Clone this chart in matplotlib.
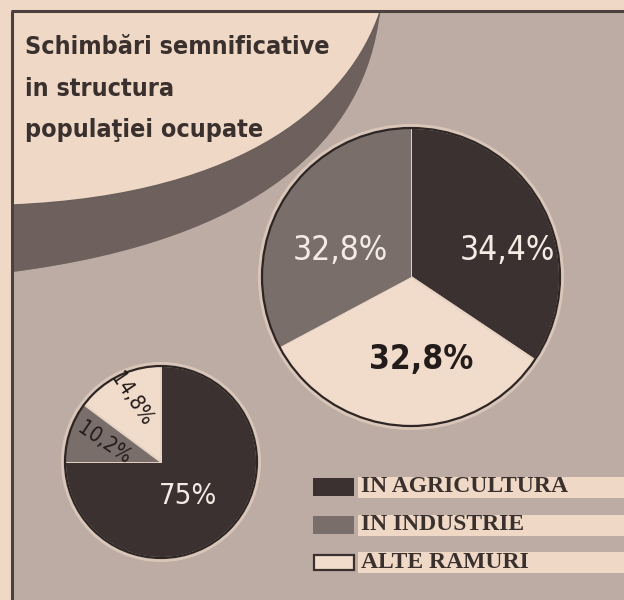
import matplotlib
matplotlib.use("Agg")
import matplotlib.pyplot as plt
from matplotlib.patches import Rectangle, PathPatch, Circle
from matplotlib.path import Path
from matplotlib import font_manager as fm

# ---------------- data ----------------
categories = ["IN AGRICULTURA", "IN INDUSTRIE", "ALTE RAMURI"]
values_big = [34.4, 32.8, 32.8]      # large pie (agri, industry, other)
values_small = [75.0, 10.2, 14.8]    # small pie (agri, industry, other)
title_lines = ["Schimbări semnificative", "in structura", "populaţiei ocupate"]

# ---------------- style ----------------
PAPER = "#efd9c6"
GRAY = "#d8c9be"
GRAY_HATCH = "#bcaca4"
BAND = "#8a7c77"
BAND_HATCH = "#6e615d"
DARK = "#3b3130"
IND = "#9a8d88"
IND_HATCH = "#7a6e6a"
LIGHT = "#f1dccb"
INK = "#3a302e"
FRAME = "#4b403e"

cat_colors = [DARK, IND, LIGHT]
plt.rcParams["hatch.linewidth"] = 0.7

W, H = 624, 600
fig = plt.figure(figsize=(W / 100, H / 100), dpi=100, facecolor=PAPER)
ax = fig.add_axes([0, 0, 1, 1])
ax.set_facecolor(PAPER)


def Y(y):
    return H - y


def P(x, y):
    return (x, Y(y))


installed = {f.name for f in fm.fontManager.ttflist}
NARROW = ["Liberation Sans Narrow", "DejaVu Sans"] if "Liberation Sans Narrow" in installed else ["DejaVu Sans"]
SERIF = ["Liberation Serif", "DejaVu Serif"]
COND = dict(family=NARROW, fontstretch="condensed")

# ---------------- background regions ----------------
ax.add_patch(Rectangle(P(12, 600), W - 12, 600 - 12, facecolor=GRAY,
                       edgecolor=GRAY_HATCH, hatch="x" * 20, lw=0, zorder=0))

upper = [P(380, 12), P(350, 100), P(250, 195), P(12, 205)]
lower = [P(12, 272), P(260, 240), P(365, 140), P(380, 12)]
band_verts = upper + [P(12, 240)] + lower
band_codes = [Path.MOVETO, Path.CURVE4, Path.CURVE4, Path.CURVE4,
              Path.LINETO, Path.LINETO, Path.CURVE4, Path.CURVE4, Path.CURVE4]
ax.add_patch(PathPatch(Path(band_verts, band_codes), facecolor=BAND,
                       edgecolor=BAND_HATCH, hatch="x" * 20, lw=0, zorder=1))

pale_verts = [P(12, 12)] + upper + [P(12, 12)]
pale_codes = [Path.MOVETO, Path.LINETO, Path.CURVE4, Path.CURVE4, Path.CURVE4,
              Path.CLOSEPOLY]
ax.add_patch(PathPatch(Path(pale_verts, pale_codes), facecolor=PAPER,
                       edgecolor="#6a5e5a", lw=1.0, zorder=2))

ax.plot([11, W], [Y(11), Y(11)], color=FRAME, lw=2.2, zorder=3,
        solid_capstyle="butt")
ax.plot([12, 12], [Y(11), Y(600)], color=FRAME, lw=2.2, zorder=3,
        solid_capstyle="butt")

# ---------------- title ----------------
title_y = [47, 89, 130]
for line, ty in zip(title_lines, title_y):
    ax.text(25, Y(ty), line, fontsize=18, fontweight="bold", color=INK,
            ha="left", va="center", zorder=5, **COND)


def fmt(v):
    return f"{v:g}".replace(".", ",") + "%"


# ---------------- pies ----------------
def draw_pie(vals, order, center, radius, label_pos, label_rot, label_col,
             label_size, label_weight):
    c = P(*center)
    v = [vals[i] for i in order]
    cols = [cat_colors[i] for i in order]
    ax.add_patch(Circle(c, radius + 4, facecolor=LIGHT, edgecolor="none",
                        alpha=0.55, zorder=3))
    wedges, _ = ax.pie(v, colors=cols, startangle=90, counterclock=False,
                       center=c, radius=radius, normalize=True,
                       wedgeprops=dict(edgecolor="#e6d3c4", linewidth=1.4))
    for w, i in zip(wedges, order):
        w.set_zorder(4)
        if i == 1:
            w.set_hatch("x" * 18)
            w.set_edgecolor(IND_HATCH)
            w.set_linewidth(0)
    ax.add_patch(Circle(c, radius, facecolor="none", edgecolor="#2e2625",
                        lw=1.6, zorder=4.5))
    for i in range(len(vals)):
        ax.text(*P(*label_pos[i]), fmt(vals[i]), color=label_col[i],
                rotation=label_rot[i], fontsize=label_size[i],
                fontweight=label_weight[i], ha="center", va="center",
                zorder=6, **COND)


draw_pie(values_big, [0, 2, 1], (411, 277), 149,
         label_pos=[(507, 250), (340, 250), (421, 360)],
         label_rot=[0, 0, 0],
         label_col=["#f4ece4", "#f4ece4", "#231c1b"],
         label_size=[24, 24, 24],
         label_weight=["normal", "normal", "bold"])

draw_pie(values_small, [0, 1, 2], (161, 462), 96,
         label_pos=[(188, 496), (104, 443), (131, 399)],
         label_rot=[0, -34, -56],
         label_col=["#f4ece4", "#231c1b", "#231c1b"],
         label_size=[21, 15, 15],
         label_weight=["normal", "normal", "normal"])

# ---------------- legend ----------------
row_y = [487, 525, 562]
for i, (cat, ry) in enumerate(zip(categories, row_y)):
    ax.add_patch(Rectangle(P(358, ry + 11), W - 358, 21, facecolor=PAPER,
                           edgecolor="none", zorder=4))
    if i == 2:
        ax.add_patch(Rectangle(P(314, ry + 8), 40, 15, facecolor=LIGHT,
                               edgecolor="#3a302e", lw=1.6, zorder=5))
    elif i == 1:
        ax.add_patch(Rectangle(P(313, ry + 9), 41, 18, facecolor=IND,
                               edgecolor=IND_HATCH, hatch="x" * 18, lw=0,
                               zorder=5))
    else:
        ax.add_patch(Rectangle(P(313, ry + 9), 41, 18, facecolor=DARK,
                               edgecolor="none", zorder=5))
    ax.text(361, Y(ry), cat, fontsize=17, fontweight="bold", color=INK,
            family=SERIF, ha="left", va="center", zorder=6)

ax.set_xlim(0, W)
ax.set_ylim(0, H)
ax.set_aspect("auto")
ax.axis("off")
fig.savefig("out.png", dpi=100, facecolor=PAPER)
